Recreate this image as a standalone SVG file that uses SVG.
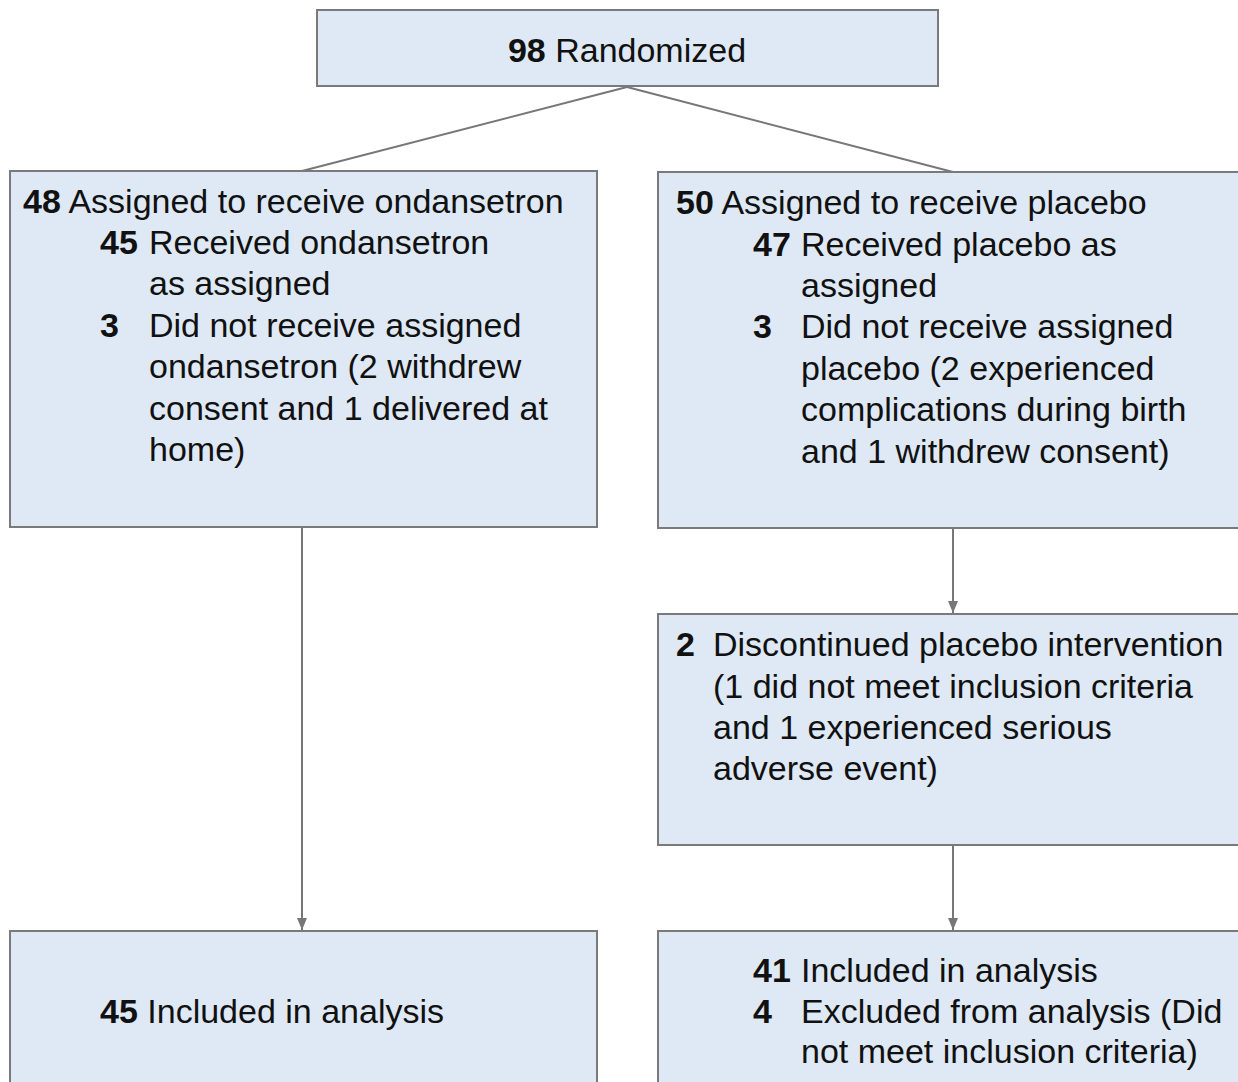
<svg xmlns="http://www.w3.org/2000/svg" width="1238" height="1082" viewBox="0 0 1238 1082">
<defs>
<style>
.box{fill:#dee9f5;stroke:#7a7a7a;stroke-width:2}
.t{font-family:"Liberation Sans",Arial,sans-serif;font-size:34px;fill:#111}
.b{font-weight:bold}
.c{stroke:#777;stroke-width:2;fill:none}
</style>
<marker id="ah" viewBox="0 0 12 10" refX="12" refY="5" markerWidth="12" markerHeight="10" markerUnits="userSpaceOnUse" orient="auto">
<path d="M0,0 L12,5 L0,10 Z" fill="#777"/>
</marker>
</defs>
<rect width="1238" height="1082" fill="#fff"/>
<g id="connectors">
<line class="c" x1="627" y1="87" x2="302" y2="171"/>
<line class="c" x1="627" y1="87" x2="953" y2="172"/>
<path class="c" d="M302,528 V930" marker-end="url(#ah)"/>
<path class="c" d="M953,529 V613" marker-end="url(#ah)"/>
<path class="c" d="M953,846 V930" marker-end="url(#ah)"/>
</g>
<g id="randomized">
<rect class="box" x="317" y="10" width="621" height="76"/>
<text class="t" x="627" y="62" text-anchor="middle"><tspan class="b">98</tspan> Randomized</text>
</g>
<g id="ondansetron">
<rect class="box" x="10" y="171" width="587" height="356"/>
<text class="t" x="23" y="213"><tspan class="b">48</tspan> Assigned to receive ondansetron</text>
<text class="t b" x="100" y="254">45</text>
<text class="t" x="149" y="254">Received ondansetron</text>
<text class="t" x="149" y="295">as assigned</text>
<text class="t b" x="100" y="337">3</text>
<text class="t" x="149" y="337">Did not receive assigned</text>
<text class="t" x="149" y="378">ondansetron (2 withdrew</text>
<text class="t" x="149" y="420">consent and 1 delivered at</text>
<text class="t" x="149" y="461">home)</text>
</g>
<g id="placebo">
<rect class="box" x="658" y="172" width="590" height="356"/>
<text class="t" x="676" y="214"><tspan class="b">50</tspan> Assigned to receive placebo</text>
<text class="t b" x="753" y="256">47</text>
<text class="t" x="801" y="256">Received placebo as</text>
<text class="t" x="801" y="297">assigned</text>
<text class="t b" x="753" y="338">3</text>
<text class="t" x="801" y="338">Did not receive assigned</text>
<text class="t" x="801" y="380">placebo (2 experienced</text>
<text class="t" x="801" y="421">complications during birth</text>
<text class="t" x="801" y="463">and 1 withdrew consent)</text>
</g>
<g id="discontinued">
<rect class="box" x="658" y="614" width="590" height="231"/>
<text class="t b" x="676" y="656">2</text>
<text class="t" x="713" y="656">Discontinued placebo intervention</text>
<text class="t" x="713" y="698">(1 did not meet inclusion criteria</text>
<text class="t" x="713" y="739">and 1 experienced serious</text>
<text class="t" x="713" y="780">adverse event)</text>
</g>
<g id="analysis-ondansetron">
<rect class="box" x="10" y="931" width="587" height="160"/>
<text class="t" x="100" y="1023"><tspan class="b">45</tspan> Included in analysis</text>
</g>
<g id="analysis-placebo">
<rect class="box" x="658" y="931" width="590" height="160"/>
<text class="t b" x="753" y="982">41</text>
<text class="t" x="801" y="982">Included in analysis</text>
<text class="t b" x="753" y="1023">4</text>
<text class="t" x="801" y="1023">Excluded from analysis (Did</text>
<text class="t" x="801" y="1063">not meet inclusion criteria)</text>
</g>
</svg>
